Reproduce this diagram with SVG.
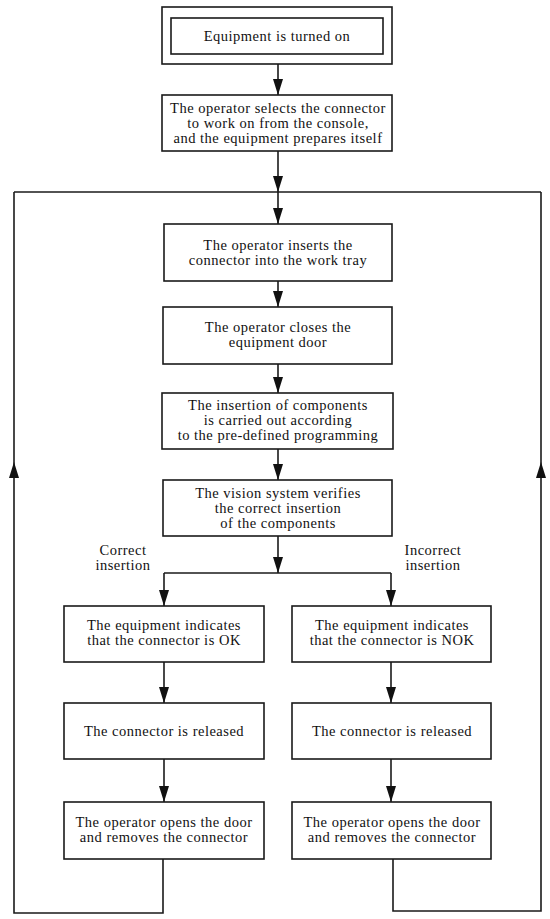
<svg xmlns="http://www.w3.org/2000/svg" width="550" height="919" viewBox="0 0 550 919">
<style>
.box{fill:#fff;stroke:#1a1a1a;stroke-width:1.6}
.ln{fill:none;stroke:#1a1a1a;stroke-width:1.6}
text{font-family:"Liberation Serif","Times New Roman",serif;font-size:14.5px;letter-spacing:0.5px;fill:#111;text-anchor:middle}
</style>
<defs>
<marker id="ah" markerUnits="userSpaceOnUse" markerWidth="16" markerHeight="10" refX="16" refY="5" orient="auto" viewBox="0 0 16 10">
<path d="M0,0 L16,5 L0,10 z" fill="#111"/>
</marker>
</defs>
<rect width="550" height="919" fill="#fff"/>
<g id="connectors">
<path class="ln" d="M278,64 V95" marker-end="url(#ah)"/>
<path class="ln" d="M278,151 V192" marker-end="url(#ah)"/>
<path class="ln" d="M14,192 H541"/>
<path class="ln" d="M278,192 V224" marker-end="url(#ah)"/>
<path class="ln" d="M278,281 V307" marker-end="url(#ah)"/>
<path class="ln" d="M278,364 V393" marker-end="url(#ah)"/>
<path class="ln" d="M278,449 V480" marker-end="url(#ah)"/>
<path class="ln" d="M278,536 V573" marker-end="url(#ah)"/>
<path class="ln" d="M164,573 H391"/>
<path class="ln" d="M164,573 V606" marker-end="url(#ah)"/>
<path class="ln" d="M391,573 V606" marker-end="url(#ah)"/>
<path class="ln" d="M164,662 V703" marker-end="url(#ah)"/>
<path class="ln" d="M164,759 V802" marker-end="url(#ah)"/>
<path class="ln" d="M391,662 V703" marker-end="url(#ah)"/>
<path class="ln" d="M391,759 V802" marker-end="url(#ah)"/>
<path class="ln" d="M163,859 V913 H14 V462" marker-end="url(#ah)"/>
<path class="ln" d="M14,462 V192"/>
<path class="ln" d="M393,859 V911 H541 V462" marker-end="url(#ah)"/>
<path class="ln" d="M541,462 V192"/>
</g>
<g id="n1">
<rect class="box" x="162" y="7" width="230" height="57"/>
<rect class="box" x="171" y="18" width="212" height="36"/>
<text x="277" y="41">Equipment is turned on</text>
</g>
<g id="n2">
<rect class="box" x="162" y="95" width="230" height="56"/>
<text x="278" y="113">The operator selects the connector</text>
<text x="278" y="128">to work on from the console,</text>
<text x="278" y="143">and the equipment prepares itself</text>
</g>
<g id="n3">
<rect class="box" x="164" y="224" width="228" height="57"/>
<text x="278" y="250">The operator inserts the</text>
<text x="278" y="265">connector into the work tray</text>
</g>
<g id="n4">
<rect class="box" x="163" y="307" width="229" height="57"/>
<text x="278" y="332">The operator closes the</text>
<text x="278" y="347">equipment door</text>
</g>
<g id="n5">
<rect class="box" x="162" y="393" width="231" height="56"/>
<text x="278" y="410">The insertion of components</text>
<text x="278" y="425">is carried out according</text>
<text x="278" y="440">to the pre-defined programming</text>
</g>
<g id="n6">
<rect class="box" x="163" y="480" width="229" height="56"/>
<text x="278" y="498">The vision system verifies</text>
<text x="278" y="513">the correct insertion</text>
<text x="278" y="528">of the components</text>
</g>
<g id="lbl-correct">
<text x="123" y="555">Correct</text>
<text x="123" y="570">insertion</text>
</g>
<g id="lbl-incorrect">
<text x="433" y="555">Incorrect</text>
<text x="433" y="570">insertion</text>
</g>
<g id="l1">
<rect class="box" x="64" y="606" width="200" height="56"/>
<text x="164" y="630">The equipment indicates</text>
<text x="164" y="645">that the connector is OK</text>
</g>
<g id="l2">
<rect class="box" x="64" y="703" width="200" height="56"/>
<text x="164" y="735.5">The connector is released</text>
</g>
<g id="l3">
<rect class="box" x="64" y="802" width="200" height="57"/>
<text x="164" y="827">The operator opens the door</text>
<text x="164" y="842">and removes the connector</text>
</g>
<g id="r1">
<rect class="box" x="292" y="606" width="199" height="56"/>
<text x="392" y="630">The equipment indicates</text>
<text x="392" y="645">that the connector is NOK</text>
</g>
<g id="r2">
<rect class="box" x="292" y="703" width="199" height="56"/>
<text x="392" y="735.5">The connector is released</text>
</g>
<g id="r3">
<rect class="box" x="292" y="802" width="199" height="57"/>
<text x="392" y="827">The operator opens the door</text>
<text x="392" y="842">and removes the connector</text>
</g>
</svg>
